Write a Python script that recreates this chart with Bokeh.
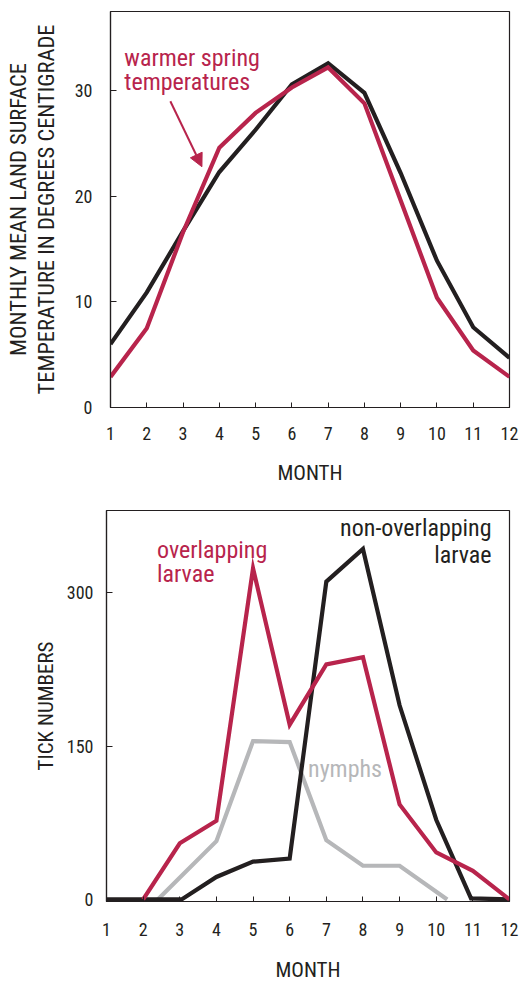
from bokeh.plotting import figure
from bokeh.models import Range1d, Label, Arrow, NormalHead, FixedTicker
from bokeh.embed import file_html
from bokeh.resources import INLINE

# ---------------- data ----------------
months = list(range(1, 13))
month_ticks = list(range(1, 13))

temp_normal = [6.0, 10.9, 16.7, 22.3, 26.3, 30.6, 32.6, 29.8, 22.2, 13.9, 7.6, 4.7]
temp_warm = [2.9, 7.5, 16.6, 24.6, 27.9, 30.3, 32.2, 28.8, 19.6, 10.4, 5.4, 2.9]
temp_ticks = [0, 10, 20, 30]

nonover_x = [1, 2, 3.05, 4, 5, 6, 7, 8, 9, 10, 10.95, 12]
nonover_y = [0, 0, 0, 22, 37, 40, 311, 343, 190, 78, 1, 0]
over_x = [2, 3, 4, 5, 6, 7, 8, 9, 10, 11, 12]
over_y = [0, 55, 77, 324, 171, 230, 237, 93, 46, 28, 0]
nymph_x = [2.4, 4, 5, 6, 7, 8, 9, 10.3]
nymph_y = [0, 57, 155, 154, 58, 33, 33, 0]
tick_ticks = [0, 150, 300]

# ---------------- style ----------------
FONT = "'Roboto Condensed', 'Liberation Sans Narrow', 'Roboto', sans-serif"
BLACK = "#231f20"
RED = "#b8244c"
GRAY = "#b6b7b9"
LW = 4.2


def style(p, ylabel, ylabel_size, label_standoff_y, tick_standoff_y,
          tick_standoff_x, label_standoff_x):
    p.grid.visible = False
    p.outline_line_color = BLACK
    p.outline_line_width = 1.2
    p.background_fill_color = "white"
    p.border_fill_color = "white"
    for ax in (p.xaxis[0], p.yaxis[0]):
        ax.axis_line_color = BLACK
        ax.axis_line_width = 1.2
        ax.major_tick_line_color = BLACK
        ax.major_tick_line_width = 1
        ax.major_tick_out = 0
        ax.minor_tick_line_color = None
        ax.major_label_text_font = FONT
        ax.major_label_text_font_size = "18px"
        ax.major_label_text_color = BLACK
        ax.axis_label_text_font = FONT
        ax.axis_label_text_font_style = "normal"
        ax.axis_label_text_color = BLACK
    p.xaxis.axis_label_text_font_size = "21px"
    p.yaxis.axis_label_text_font_size = ylabel_size
    p.yaxis.axis_label_text_line_height = 1.05
    p.xaxis.major_tick_in = 5
    p.yaxis.major_tick_in = 6
    p.xaxis.ticker = FixedTicker(ticks=month_ticks)
    p.xaxis.axis_label = "MONTH"
    p.xaxis.major_label_standoff = tick_standoff_x
    p.xaxis.axis_label_standoff = label_standoff_x
    p.yaxis.axis_label = ylabel
    p.yaxis.major_label_standoff = tick_standoff_y
    p.yaxis.axis_label_standoff = label_standoff_y


def note(p, x, y, text, color, align="left"):
    p.add_layout(Label(x=x, y=y, text=text, text_font=FONT, text_font_size="24px",
                       text_color=color, text_baseline="alphabetic", text_align=align))


# ---------------- top panel ----------------
p1 = figure(width=519, height=490, x_range=Range1d(1, 12), y_range=Range1d(0, 37.5),
            output_backend="svg", toolbar_location=None,
            min_border_left=110, min_border_right=10, min_border_top=11, min_border_bottom=83)
style(p1, "MONTHLY MEAN LAND SURFACE\nTEMPERATURE IN DEGREES CENTIGRADE", "22.5px",
      13, 18, 19, 18)
p1.yaxis.ticker = FixedTicker(ticks=temp_ticks)

p1.line(months, temp_normal, line_color=BLACK, line_width=LW, line_join="miter")
p1.line(months, temp_warm, line_color=RED, line_width=LW, line_join="miter")

note(p1, 1.38, 33.1, "warmer spring", RED)
note(p1, 1.38, 30.8, "temperatures", RED)
p1.add_layout(Arrow(x_start=2.65, y_start=29.0, x_end=3.52, y_end=22.8,
                    line_color=RED, line_width=2,
                    end=NormalHead(size=13, fill_color=RED, line_color=RED)))

# ---------------- bottom panel ----------------
p2 = figure(width=519, height=496, x_range=Range1d(-0.2 / 36.6 + 1, 12), y_range=Range1d(-2.0, 380.6),
            output_backend="svg", toolbar_location=None,
            min_border_left=106, min_border_right=10, min_border_top=20, min_border_bottom=85)
p2.x_range = Range1d(1, 12)
style(p2, "TICK NUMBERS", "21px", 6, 13, 21, 19)
p2.yaxis.ticker = FixedTicker(ticks=tick_ticks)

p2.line(nymph_x, nymph_y, line_color=GRAY, line_width=LW, line_join="miter")
p2.line(nonover_x, nonover_y, line_color=BLACK, line_width=LW, line_join="miter")
p2.line(over_x, over_y, line_color=RED, line_width=LW, line_join="miter")

note(p2, 2.38, 341.5, "overlapping", RED)
note(p2, 2.38, 318, "larvae", RED)
note(p2, 11.51, 363, "non-overlapping", BLACK, "right")
note(p2, 11.51, 337, "larvae", BLACK, "right")
note(p2, 6.5, 128, "nymphs", GRAY)

open("out.html", "w").write(file_html([p1, p2], INLINE))
